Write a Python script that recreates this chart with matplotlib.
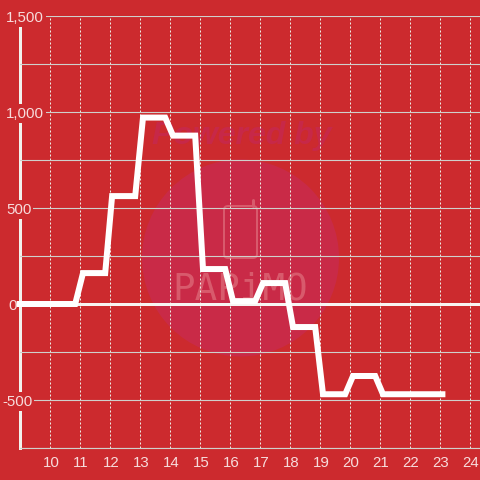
import matplotlib
matplotlib.use("Agg")
import matplotlib.pyplot as plt
from matplotlib.patches import Circle, FancyBboxPatch
from matplotlib.transforms import ScaledTranslation, IdentityTransform

hours = [8.89, 10.84, 11.1, 11.84, 12.07, 12.84, 13.1, 13.84, 14.1, 14.84, 15.1, 15.84,
         16.1, 16.84, 17.1, 17.84, 18.1, 18.84, 19.1, 19.84, 20.1, 20.84, 21.1, 23.18]
values = [0, 0, 161, 161, 562, 562, 971, 971, 877, 877, 182, 182,
          15, 15, 109, 109, -120, -120, -470, -470, -375, -375, -470, -470]
x_ticks = list(range(10, 25))
y_ticks = [-750, -500, -250, 0, 250, 500, 750, 1000, 1250, 1500]
y_labels = ["", "-500", "", "0", "", "500", "", "1,000", "", "1,500"]

BG = "#cc2a2e"
WM = "#d85a6c"
PX = 72 / 100
plt.rcParams["font.family"] = ["Liberation Sans", "DejaVu Sans"]

fig = plt.figure(figsize=(4.8, 4.8), dpi=100, facecolor=BG)
ax = fig.add_axes([20 / 480, 32 / 480, 460 / 480, 432 / 480], facecolor=BG)

# watermark, in figure pixels (y measured from the bottom)
pix = IdentityTransform()
ax.add_patch(Circle((240.5, 480 - 258), 98.5, transform=pix, facecolor="#c92a47",
                    edgecolor="none", zorder=0.1))
ax.text(242, 480 - 136, "Powered by", transform=pix, ha="center", va="center", fontsize=23,
        fontweight="bold", style="italic", color="#c72848", zorder=0.2)
ax.text(240, 480 - 289, "PAPiMO", transform=pix, ha="center", va="center", fontsize=27,
        family="DejaVu Sans Mono", color=WM, zorder=0.2)
ax.add_patch(FancyBboxPatch((224, 480 - 258), 33, 52, transform=pix,
                            boxstyle="round,pad=0,rounding_size=4", facecolor="none",
                            edgecolor=WM, linewidth=2 * PX, zorder=0.2))
ax.plot([253, 253], [480 - 206, 480 - 200], transform=pix, color=WM, linewidth=3 * PX,
        solid_capstyle="round", zorder=0.2)
ax.set_xlim(9, 9 + 460 / 30)
ax.set_ylim(-750, 1500)

ax.set_xticks(x_ticks)
ax.set_yticks(y_ticks)
ax.set_yticklabels(y_labels)
ax.set_axisbelow(True)
ax.grid(True, axis="y", color="#cfd0cc", linewidth=1.1 * PX)
ax.grid(True, axis="x", color="#ecece6", linewidth=1 * PX, linestyle=(0, (2.0, 2.0)))

ax.tick_params(axis="both", length=0, labelcolor="#f7dcdc", labelsize=10.8)
ax.tick_params(axis="x", pad=5.5)
ax.tick_params(axis="y", pad=14 * PX)
shifts = {"-500": -4, "0": 2}
for lab in ax.get_yticklabels():
    lab.set_ha("left")
    lab.set_bbox(dict(facecolor=BG, edgecolor="none", pad=1.5))
    dx = shifts.get(lab.get_text(), 0)
    if dx:
        lab.set_transform(lab.get_transform() + ScaledTranslation(dx / 100, 0, fig.dpi_scale_trans))
for lab in ax.get_xticklabels():
    lab.set_transform(lab.get_transform() + ScaledTranslation(1 / 100, 0, fig.dpi_scale_trans))

for side in ("top", "right"):
    ax.spines[side].set_visible(False)
ax.spines["left"].set_color("#f2f2ee")
ax.spines["left"].set_linewidth(3 * PX)
ax.spines["left"].set_zorder(0.4)
ax.spines["bottom"].set_color("#cfd0cc")
ax.spines["bottom"].set_linewidth(1.1 * PX)
ax.spines["bottom"].set_zorder(0.4)

ax.plot([hours[0], 9 + 460 / 30], [0, 0], color="#f7f4f2", linewidth=3 * PX,
        clip_on=False, zorder=1, solid_capstyle="butt")
ax.plot(hours, values, color="white", linewidth=6 * PX, clip_on=False, zorder=3,
        solid_capstyle="butt", solid_joinstyle="miter")

fig.savefig("out.png", dpi=100, facecolor=BG)
